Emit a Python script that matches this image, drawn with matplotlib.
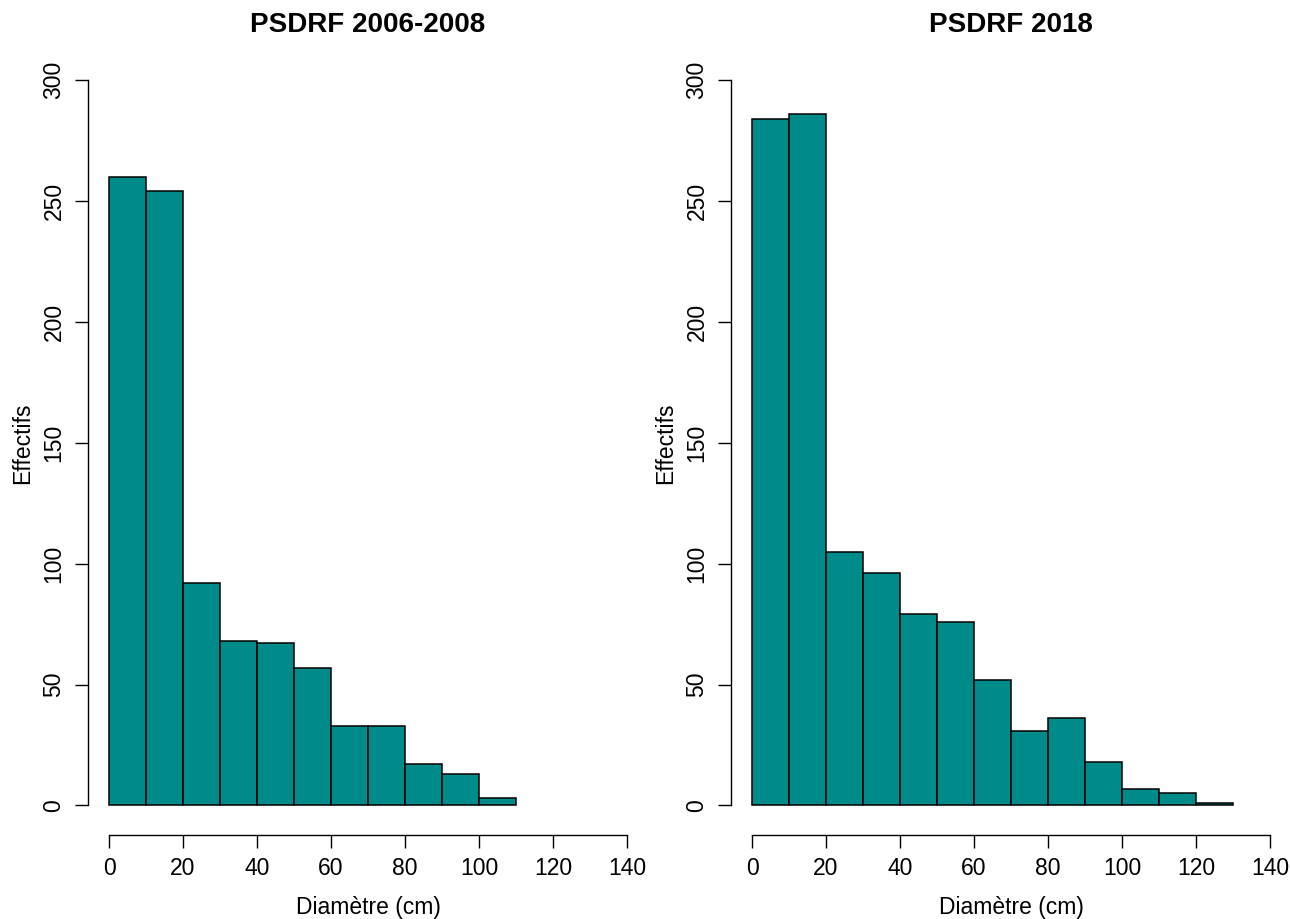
import matplotlib.pyplot as plt

plt.rcParams['font.family'] = ['Liberation Sans', 'DejaVu Sans']

# Diameter classes (cm), 10 cm wide
bin_edges = [0, 10, 20, 30, 40, 50, 60, 70, 80, 90, 100, 110, 120, 130]

# Tree counts per class for each inventory
counts_2006 = [260, 254, 92, 68, 67, 57, 33, 33, 17, 13, 3]
counts_2018 = [284, 286, 105, 96, 79, 76, 52, 31, 36, 18, 7, 5, 1]

panels = [
    ('PSDRF 2006-2008', counts_2006),
    ('PSDRF 2018', counts_2018),
]

W, H = 1290, 919
fig = plt.figure(figsize=(W / 100, H / 100), dpi=100)

lefts = [88.3, 731.3]
for (title, counts), left in zip(panels, lefts):
    ax = fig.add_axes([left / W, (H - 834.5) / H, 559.4 / W, 783.5 / H])
    ax.bar(bin_edges[:len(counts)], counts, width=10, align='edge',
           color='#008B8B', edgecolor='black', linewidth=1.1)

    # R-like axes: padded range, axis lines only over the tick span
    ax.set_xlim(-5.6, 145.6)
    ax.set_ylim(-12, 312)
    ax.spines['top'].set_visible(False)
    ax.spines['right'].set_visible(False)
    ax.spines['left'].set_bounds(0, 300)
    ax.spines['bottom'].set_bounds(0, 140)
    for s in ('left', 'bottom'):
        ax.spines[s].set_linewidth(1.0)

    ax.set_xticks(range(0, 141, 20))
    ax.set_yticks(range(0, 301, 50))
    ax.tick_params(length=9.5, width=1.0, labelsize=16.5, pad=7)
    for lbl in ax.get_yticklabels():
        lbl.set_rotation(90)
        lbl.set_va('center')

    ax.set_xlabel('Diamètre (cm)', fontsize=16.5, labelpad=11)
    ax.set_ylabel('Effectifs', fontsize=16.5, labelpad=6)
    ax.set_title(title, fontsize=20, fontweight='bold', pad=14)

fig.savefig('out.png', dpi=100)
